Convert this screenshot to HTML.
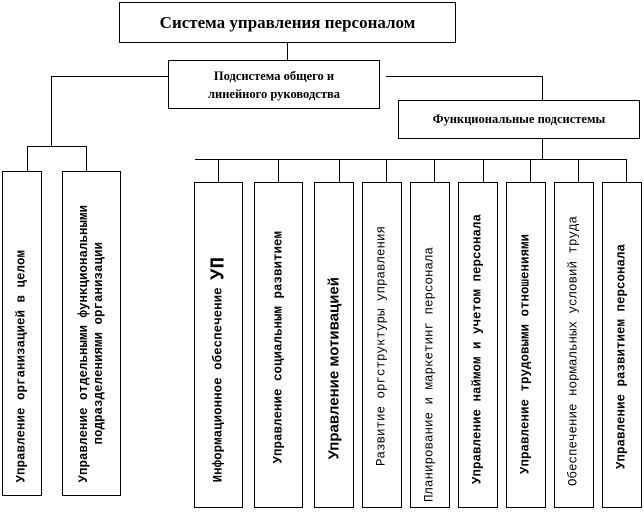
<!DOCTYPE html>
<html><head><meta charset="utf-8"><style>
body{margin:0;width:644px;height:513px;background:#fff;position:relative;overflow:hidden;font-family:"Liberation Serif","DejaVu Serif",serif}
.b{position:absolute;border:1px solid #000;box-sizing:border-box;background:#fff}
.l{position:absolute;background:#000}
.t{position:absolute;writing-mode:vertical-rl;transform:translateX(-50%) rotate(180deg);left:50%;font-family:"Liberation Mono","DejaVu Sans Mono",monospace;font-size:12.5px;font-weight:bold;white-space:nowrap;line-height:15px;text-align:center}
.h{display:flex;align-items:center;justify-content:center;text-align:center;font-weight:bold}
</style></head><body>
<div class="b h" style="left:119px;top:2px;width:337px;height:41px;font-size:17px">Система управления персоналом</div>
<div class="l" style="left:287px;top:43px;width:1px;height:17px"></div>
<div class="b h" style="left:168px;top:60px;width:212px;height:49px;font-size:12.5px;line-height:18px">Подсистема общего и<br>линейного руководства</div>
<div class="l" style="left:51px;top:76px;width:117px;height:1px"></div>
<div class="l" style="left:386px;top:76px;width:157px;height:1px"></div>
<div class="l" style="left:542px;top:76px;width:1px;height:24px"></div>
<div class="b h" style="left:398px;top:100px;width:242px;height:39px;font-size:12.5px">Функциональные подсистемы</div>
<div class="l" style="left:542px;top:139px;width:1px;height:21px"></div>
<div class="l" style="left:51px;top:76px;width:1px;height:70px"></div>
<div class="l" style="left:27px;top:146px;width:60px;height:1px"></div>
<div class="l" style="left:27px;top:146px;width:1px;height:25px"></div>
<div class="l" style="left:86px;top:146px;width:1px;height:25px"></div>
<div class="b" style="left:2px;top:171px;width:40px;height:325px"><span class="t" style="bottom:12px">Управление организацией в целом</span></div>
<div class="b" style="left:62px;top:171px;width:59px;height:325px"><span class="t" style="bottom:12px">Управление отдельными функциональными<br>подразделениями организации</span></div>
<div class="l" style="left:195px;top:159px;width:432px;height:1px"></div>
<div class="l" style="left:218px;top:159px;width:1px;height:23px"></div>
<div class="l" style="left:278px;top:159px;width:1px;height:23px"></div>
<div class="l" style="left:339px;top:159px;width:1px;height:23px"></div>
<div class="l" style="left:386px;top:159px;width:1px;height:23px"></div>
<div class="l" style="left:434px;top:159px;width:1px;height:23px"></div>
<div class="l" style="left:483px;top:159px;width:1px;height:23px"></div>
<div class="l" style="left:530px;top:159px;width:1px;height:23px"></div>
<div class="l" style="left:578px;top:159px;width:1px;height:23px"></div>
<div class="l" style="left:626px;top:159px;width:1px;height:23px"></div>
<div class="b" style="left:194px;top:182px;width:49px;height:326px"><span class="t" style="bottom:25px">Информационное обеспечение <span style="font-size:19px">УП</span></span></div>
<div class="b" style="left:254px;top:182px;width:49px;height:326px"><span class="t" style="bottom:43px">Управление социальным развитием</span></div>
<div class="b" style="left:314px;top:182px;width:40px;height:326px"><span class="t" style="bottom:48px;font-family:'Liberation Sans',sans-serif;font-size:15px">Управление мотивацией</span></div>
<div class="b" style="left:362px;top:182px;width:40px;height:326px"><span class="t" style="bottom:41px;font-weight:normal">Развитие оргструктуры управления</span></div>
<div class="b" style="left:410px;top:182px;width:40px;height:326px"><span class="t" style="bottom:5px;font-weight:normal">Планирование и маркетинг персонала</span></div>
<div class="b" style="left:458px;top:182px;width:40px;height:326px"><span class="t" style="bottom:23px">Управление наймом и учетом персонала</span></div>
<div class="b" style="left:506px;top:182px;width:40px;height:326px"><span class="t" style="bottom:33px">Управление трудовыми отношениями</span></div>
<div class="b" style="left:554px;top:182px;width:40px;height:326px"><span class="t" style="bottom:21px;font-weight:normal">Обеспечение нормальных условий труда</span></div>
<div class="b" style="left:602px;top:182px;width:40px;height:326px"><span class="t" style="bottom:38px">Управление развитием персонала</span></div>
</body></html>
